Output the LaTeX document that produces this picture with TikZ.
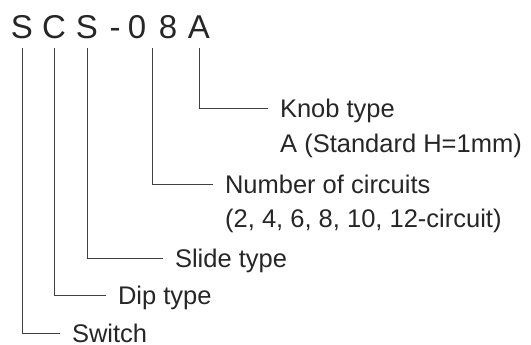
\documentclass[tikz,border=0pt]{standalone}
\usepackage{fontspec}
\setmainfont{Liberation Sans}
\usetikzlibrary{calc}
\begin{document}
\begin{tikzpicture}[x=1pt,y=-1pt,
  part/.style={font=\fontsize{33}{33}\selectfont, anchor=base, inner xsep=0pt,
    inner ysep=9pt, text depth=0pt, outer sep=0pt, text=black!85},
  desc/.style={font=\fontsize{25.5}{30}\selectfont, anchor=west, inner xsep=12pt,
    inner ysep=0pt, text height=18.3pt, text depth=0pt, outer sep=0pt, text=black!85},
  note/.style={font=\fontsize{25.5}{30}\selectfont, anchor=base west, inner sep=0pt,
    text=black!85},
  lead/.style={line width=0.8pt, black!75}]
  \useasboundingbox (0,0) rectangle (531,345);

  % Model code
  \node[part] (s1) at (22,39) {S};
  \node[part] (c) at (54,39) {C};
  \node[part] (s2) at (87,39) {S};
  \node[part] (hy) at (115,39) {-};
  \node[part] (zero) at (137,39) {0};
  \node[part] (eight) at (168,39) {8};
  \node[part] (a) at (199,39) {A};

  % Descriptions
  \node[desc] (knob) at (268,108) {Knob type};
  \node[note] (knobA) at (280,153) {A (Standard H=1mm)};
  \node[desc] (circ) at (213,184) {Number of circuits};
  \node[note] (circN) at (225,227) {(2, 4, 6, 8, 10, 12-circuit)};
  \node[desc] (slide) at (163,258) {Slide type};
  \node[desc] (dip) at (106,295) {Dip type};
  \node[desc] (switch) at (60,333) {Switch};

  % Leaders
  \draw[lead] (a.south) |- (knob.west);
  \draw[lead] ($(zero.south)!0.5!(eight.south)$) |- (circ.west);
  \draw[lead] (s2.south) |- (slide.west);
  \draw[lead] (c.south) |- (dip.west);
  \draw[lead] (s1.south) |- (switch.west);
\end{tikzpicture}
\end{document}
